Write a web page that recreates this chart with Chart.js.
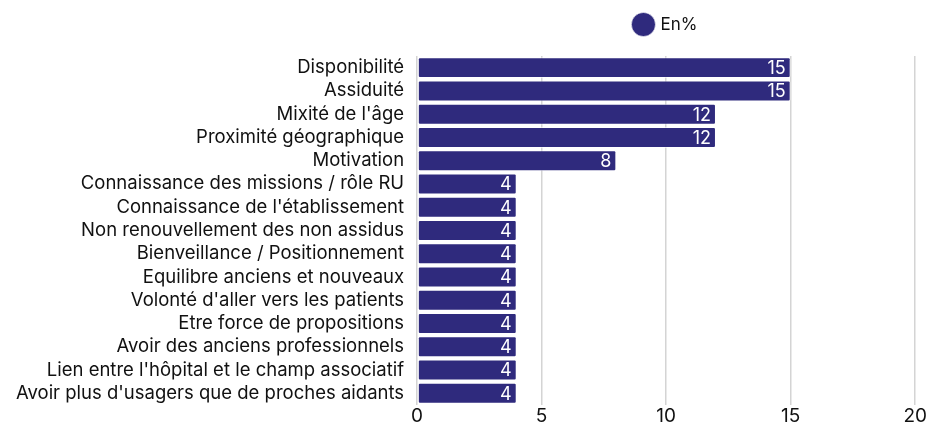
<!DOCTYPE html>
<html>
<head>
<meta charset="utf-8">
<script src="https://cdn.jsdelivr.net/npm/chart.js@4"></script>
<style>
  html, body { margin: 0; padding: 0; background: #fff; }
  #wrap { width: 927px; height: 429px; }
</style>
</head>
<body>
<div id="wrap"><canvas id="chart"></canvas></div>
<script>
const categories = [
  'Disponibilité',
  'Assiduité',
  "Mixité de l'âge",
  'Proximité géographique',
  'Motivation',
  'Connaissance des missions / rôle RU',
  "Connaissance de l'établissement",
  'Non renouvellement des non assidus',
  'Bienveillance / Positionnement',
  'Equilibre anciens et nouveaux',
  "Volonté d'aller vers les patients",
  'Etre force de propositions',
  'Avoir des anciens professionnels',
  "Lien entre l'hôpital et le champ associatif",
  "Avoir plus d'usagers que de proches aidants"
];
const values = [15, 15, 12, 12, 8, 4, 4, 4, 4, 4, 4, 4, 4, 4, 4];
const seriesLabel = 'En%';
const xTicks = [0, 5, 10, 15, 20];

const barColor = '#2f2a7d';
const fontFamily = 'Inter, "Noto Sans", sans-serif';

// writes the value inside the end of each bar
const valueLabels = {
  id: 'valueLabels',
  afterDatasetsDraw(chart) {
    const ctx = chart.ctx;
    const meta = chart.getDatasetMeta(0);
    ctx.save();
    ctx.fillStyle = '#ffffff';
    ctx.font = '18px ' + fontFamily;
    ctx.textAlign = 'right';
    ctx.textBaseline = 'middle';
    meta.data.forEach((bar, i) => {
      ctx.fillText(String(values[i]), bar.x - 5, bar.y + 1);
    });
    ctx.restore();
  }
};

// extra room under the legend
const legendGap = {
  id: 'legendGap',
  beforeInit(chart) {
    const fit = chart.legend.fit;
    chart.legend.fit = function () {
      fit.bind(chart.legend)();
      this.height += 13;
    };
  }
};

new Chart(document.getElementById('chart'), {
  type: 'bar',
  data: {
    labels: categories,
    datasets: [{
      label: seriesLabel,
      data: values,
      backgroundColor: barColor,
      borderColor: 'rgba(255,255,255,0.6)',
      borderWidth: 1,
      borderRadius: 2,
      borderSkipped: false,
      barPercentage: 0.93,
      categoryPercentage: 0.97
    }]
  },
  options: {
    indexAxis: 'y',
    responsive: true,
    maintainAspectRatio: false,
    animation: false,
    layout: { padding: { left: 3, right: 0, top: 6, bottom: 0 } },
    plugins: {
      legend: {
        position: 'top',
        fullSize: false,
        labels: {
          usePointStyle: true,
          pointStyle: 'circle',
          boxWidth: 18,
          boxHeight: 18,
          color: '#111',
          font: { family: fontFamily, size: 17 },
          padding: 10
        }
      },
      tooltip: { enabled: false }
    },
    scales: {
      x: {
        min: 0,
        max: 20,
        afterBuildTicks: (axis) => { axis.ticks = xTicks.map(v => ({ value: v })); },
        border: { display: false },
        grid: { color: '#d4d4d4', lineWidth: 1.5, drawTicks: false },
        ticks: { color: '#111', font: { family: fontFamily, size: 19 }, padding: 0 }
      },
      y: {
        border: { display: false },
        grid: { display: false, drawTicks: false },
        ticks: { color: '#111', font: { family: fontFamily, size: 18.5 }, padding: 13, autoSkip: false }
      }
    }
  },
  plugins: [valueLabels, legendGap]
});
</script>
</body>
</html>
